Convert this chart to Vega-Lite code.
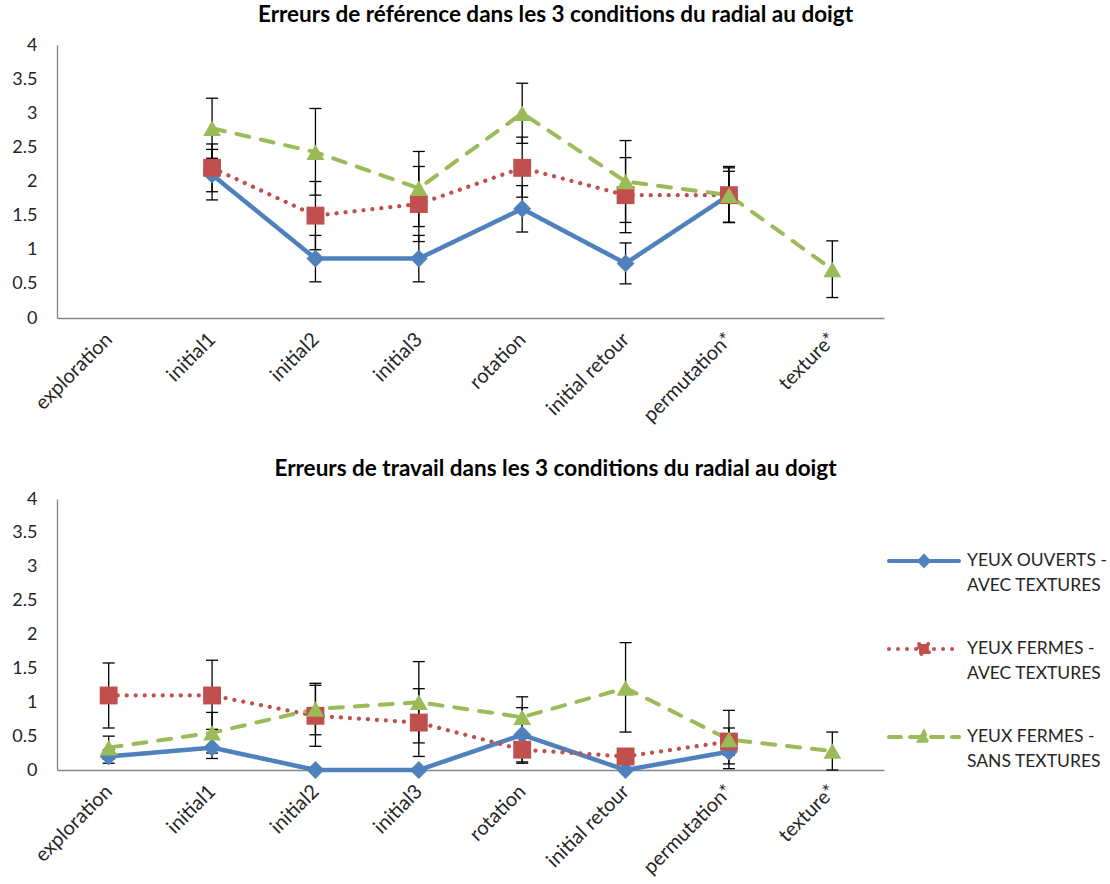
{
  "$schema": "https://vega.github.io/schema/vega-lite/v6.json",
  "padding": {"left": 11, "top": 3, "right": 0, "bottom": 0},
  "background": "white",
  "config": {
    "font": "Lato",
    "view": {"stroke": null},
    "title": {"fontSize": 22.5, "fontWeight": "bold", "font": "Lato", "color": "#000000", "dx": 85, "offset": 10},
    "axis": {"domainColor": "#868686", "domainWidth": 1.3, "ticks": false, "grid": false, "labelColor": "#262626", "title": null, "labelFont": "Lato", "labelOverlap": false},
    "axisY": {"values": [0, 0.5, 1, 1.5, 2, 2.5, 3, 3.5, 4], "format": ".1~f", "labelFontSize": 18, "labelPadding": 20},
    "axisX": {"labelAngle": -45, "labelAlign": "right", "labelBaseline": "middle", "labelFontSize": 20, "labelPadding": 18}
  },
  "datasets": {
    "ref": [
      {"s": "YEUX OUVERTS - AVEC TEXTURES", "c": "initial1", "v": 2.1, "lo": 1.73, "hi": 2.47},
      {"s": "YEUX OUVERTS - AVEC TEXTURES", "c": "initial2", "v": 0.87, "lo": 0.53, "hi": 1.21},
      {"s": "YEUX OUVERTS - AVEC TEXTURES", "c": "initial3", "v": 0.87, "lo": 0.53, "hi": 1.21},
      {"s": "YEUX OUVERTS - AVEC TEXTURES", "c": "rotation", "v": 1.6, "lo": 1.26, "hi": 1.94},
      {"s": "YEUX OUVERTS - AVEC TEXTURES", "c": "initial retour", "v": 0.8, "lo": 0.5, "hi": 1.1},
      {"s": "YEUX OUVERTS - AVEC TEXTURES", "c": "permutation*", "v": 1.8, "lo": 1.4, "hi": 2.2},
      {"s": "YEUX FERMES - AVEC TEXTURES", "c": "initial1", "v": 2.2, "lo": 1.85, "hi": 2.55},
      {"s": "YEUX FERMES - AVEC TEXTURES", "c": "initial2", "v": 1.5, "lo": 1.0, "hi": 2.0},
      {"s": "YEUX FERMES - AVEC TEXTURES", "c": "initial3", "v": 1.67, "lo": 1.12, "hi": 2.22},
      {"s": "YEUX FERMES - AVEC TEXTURES", "c": "rotation", "v": 2.2, "lo": 1.77, "hi": 2.65},
      {"s": "YEUX FERMES - AVEC TEXTURES", "c": "initial retour", "v": 1.8, "lo": 1.25, "hi": 2.35},
      {"s": "YEUX FERMES - AVEC TEXTURES", "c": "permutation*", "v": 1.8, "lo": 1.4, "hi": 2.22},
      {"s": "YEUX FERMES - SANS TEXTURES", "c": "initial1", "v": 2.78, "lo": 2.34, "hi": 3.22},
      {"s": "YEUX FERMES - SANS TEXTURES", "c": "initial2", "v": 2.43, "lo": 1.8, "hi": 3.07},
      {"s": "YEUX FERMES - SANS TEXTURES", "c": "initial3", "v": 1.9, "lo": 1.34, "hi": 2.44},
      {"s": "YEUX FERMES - SANS TEXTURES", "c": "rotation", "v": 3.0, "lo": 2.56, "hi": 3.44},
      {"s": "YEUX FERMES - SANS TEXTURES", "c": "initial retour", "v": 2.0, "lo": 1.4, "hi": 2.6},
      {"s": "YEUX FERMES - SANS TEXTURES", "c": "permutation*", "v": 1.8, "lo": 1.4, "hi": 2.15},
      {"s": "YEUX FERMES - SANS TEXTURES", "c": "texture*", "v": 0.71, "lo": 0.3, "hi": 1.13}
    ],
    "trav": [
      {"s": "YEUX OUVERTS - AVEC TEXTURES", "c": "exploration", "v": 0.2, "lo": 0.1, "hi": 0.3},
      {"s": "YEUX OUVERTS - AVEC TEXTURES", "c": "initial1", "v": 0.33, "lo": 0.17, "hi": 0.49},
      {"s": "YEUX OUVERTS - AVEC TEXTURES", "c": "initial2", "v": 0.0},
      {"s": "YEUX OUVERTS - AVEC TEXTURES", "c": "initial3", "v": 0.0},
      {"s": "YEUX OUVERTS - AVEC TEXTURES", "c": "rotation", "v": 0.52, "lo": 0.12, "hi": 0.92},
      {"s": "YEUX OUVERTS - AVEC TEXTURES", "c": "initial retour", "v": 0.0},
      {"s": "YEUX OUVERTS - AVEC TEXTURES", "c": "permutation*", "v": 0.27, "lo": 0.09, "hi": 0.45},
      {"s": "YEUX FERMES - AVEC TEXTURES", "c": "exploration", "v": 1.1, "lo": 0.62, "hi": 1.58},
      {"s": "YEUX FERMES - AVEC TEXTURES", "c": "initial1", "v": 1.1, "lo": 0.6, "hi": 1.62},
      {"s": "YEUX FERMES - AVEC TEXTURES", "c": "initial2", "v": 0.8, "lo": 0.35, "hi": 1.25},
      {"s": "YEUX FERMES - AVEC TEXTURES", "c": "initial3", "v": 0.7, "lo": 0.2, "hi": 1.2},
      {"s": "YEUX FERMES - AVEC TEXTURES", "c": "rotation", "v": 0.3, "lo": 0.1, "hi": 0.5},
      {"s": "YEUX FERMES - AVEC TEXTURES", "c": "initial retour", "v": 0.2, "lo": 0.1, "hi": 0.3},
      {"s": "YEUX FERMES - AVEC TEXTURES", "c": "permutation*", "v": 0.42, "lo": 0.22, "hi": 0.62},
      {"s": "YEUX FERMES - SANS TEXTURES", "c": "exploration", "v": 0.33, "lo": 0.16, "hi": 0.5},
      {"s": "YEUX FERMES - SANS TEXTURES", "c": "initial1", "v": 0.55, "lo": 0.25, "hi": 0.85},
      {"s": "YEUX FERMES - SANS TEXTURES", "c": "initial2", "v": 0.9, "lo": 0.52, "hi": 1.28},
      {"s": "YEUX FERMES - SANS TEXTURES", "c": "initial3", "v": 1.0, "lo": 0.4, "hi": 1.6},
      {"s": "YEUX FERMES - SANS TEXTURES", "c": "rotation", "v": 0.78, "lo": 0.48, "hi": 1.08},
      {"s": "YEUX FERMES - SANS TEXTURES", "c": "initial retour", "v": 1.21, "lo": 0.56, "hi": 1.88},
      {"s": "YEUX FERMES - SANS TEXTURES", "c": "permutation*", "v": 0.45, "lo": 0.02, "hi": 0.88},
      {"s": "YEUX FERMES - SANS TEXTURES", "c": "texture*", "v": 0.28, "lo": 0.0, "hi": 0.56}
    ]
  },
  "spacing": 31,
  "resolve": {"legend": {"color": "independent"}},
  "vconcat": [
    {
      "title": {"text": "Erreurs de référence dans les 3 conditions du radial au doigt"},
      "width": 827,
      "height": 273,
      "data": {"name": "ref"},
      "encoding": {
        "x": {"field": "c", "type": "nominal",
          "scale": {"type": "point", "padding": 0.5, "domain": ["exploration", "initial1", "initial2", "initial3", "rotation", "initial retour", "permutation*", "texture*"]}}
      },
      "layer": [
        {"mark": {"type": "line", "strokeCap": "round"},
          "encoding": {
            "y": {"field": "v", "type": "quantitative", "scale": {"domain": [0, 4]}},
            "color": {"field": "s", "type": "nominal", "legend": null, "scale": {"domain": ["YEUX OUVERTS - AVEC TEXTURES", "YEUX FERMES - AVEC TEXTURES", "YEUX FERMES - SANS TEXTURES"], "range": ["#4F81BD", "#C0504D", "#9BBB59"]}},
            "strokeDash": {"field": "s", "type": "nominal", "legend": null, "scale": {"domain": ["YEUX OUVERTS - AVEC TEXTURES", "YEUX FERMES - AVEC TEXTURES", "YEUX FERMES - SANS TEXTURES"], "range": [[1, 0], [0.01, 9], [13, 12]]}},
            "strokeWidth": {"field": "s", "type": "nominal", "legend": null, "scale": {"domain": ["YEUX OUVERTS - AVEC TEXTURES", "YEUX FERMES - AVEC TEXTURES", "YEUX FERMES - SANS TEXTURES"], "range": [4.5, 4, 4.5]}}
          }},
        {"mark": {"type": "rule", "color": "#000000", "strokeWidth": 1.3},
          "encoding": {"y": {"field": "lo", "type": "quantitative"}, "y2": {"field": "hi"}}},
        {"mark": {"type": "tick", "color": "#000000", "thickness": 1.3, "size": 12, "opacity": 1},
          "encoding": {"y": {"field": "lo", "type": "quantitative"}}},
        {"mark": {"type": "tick", "color": "#000000", "thickness": 1.3, "size": 12, "opacity": 1},
          "encoding": {"y": {"field": "hi", "type": "quantitative"}}},
        {"mark": {"type": "point", "filled": true, "opacity": 1, "size": 320},
          "encoding": {
            "y": {"field": "v", "type": "quantitative"},
            "color": {"field": "s", "type": "nominal", "legend": null},
            "shape": {"field": "s", "type": "nominal", "legend": null, "scale": {"domain": ["YEUX OUVERTS - AVEC TEXTURES", "YEUX FERMES - AVEC TEXTURES", "YEUX FERMES - SANS TEXTURES"], "range": ["diamond", "square", "triangle-up"]}}
          }}
      ]
    },
    {
      "title": {"text": "Erreurs de travail dans  les 3 conditions du radial au doigt"},
      "width": 827,
      "height": 271,
      "data": {"name": "trav"},
      "encoding": {
        "x": {"field": "c", "type": "nominal",
          "scale": {"type": "point", "padding": 0.5, "domain": ["exploration", "initial1", "initial2", "initial3", "rotation", "initial retour", "permutation*", "texture*"]}}
      },
      "layer": [
        {"mark": {"type": "line", "strokeCap": "round"},
          "encoding": {
            "y": {"field": "v", "type": "quantitative", "scale": {"domain": [0, 4]}},
            "color": {"field": "s", "type": "nominal",
              "legend": {"orient": "none", "legendX": 830, "legendY": 25, "title": null, "symbolSize": 4900, "labelFontSize": 17.5, "labelFont": "Lato", "labelColor": "#262626", "labelLimit": 300, "rowPadding": 17, "labelOffset": 6,
                "labelExpr": "[split(datum.label, ' - ')[0] + ' -', split(datum.label, ' - ')[1]]",
                "encode": {
                  "symbols": {"update": {
                    "shape": {"signal": "datum.value === 'YEUX OUVERTS - AVEC TEXTURES' ? 'M-1,0H1M0,-0.13L0.13,0L0,0.13L-0.13,0Z' : datum.value === 'YEUX FERMES - AVEC TEXTURES' ? 'M-1,0H1M-0.14,-0.14H0.14V0.14H-0.14Z' : 'M-1,0H1M-0.13,0.11L0,-0.13L0.13,0.11Z'"},
                    "strokeDash": {"signal": "datum.value === 'YEUX OUVERTS - AVEC TEXTURES' ? [1,0] : datum.value === 'YEUX FERMES - AVEC TEXTURES' ? [0.01,9] : [12,9]"},
                    "fill": {"signal": "datum.value === 'YEUX OUVERTS - AVEC TEXTURES' ? '#4F81BD' : datum.value === 'YEUX FERMES - AVEC TEXTURES' ? '#C0504D' : '#9BBB59'"},
                    "stroke": {"signal": "datum.value === 'YEUX OUVERTS - AVEC TEXTURES' ? '#4F81BD' : datum.value === 'YEUX FERMES - AVEC TEXTURES' ? '#C0504D' : '#9BBB59'"},
                    "strokeWidth": {"value": 4},
                    "strokeCap": {"value": "round"},
                    "opacity": {"value": 1},
                    "fillOpacity": {"value": 1}
                  }},
                  "labels": {"update": {"lineHeight": {"value": 25}}}
                }}},
            "strokeDash": {"field": "s", "type": "nominal", "legend": null},
            "strokeWidth": {"field": "s", "type": "nominal", "legend": null}
          }},
        {"mark": {"type": "rule", "color": "#000000", "strokeWidth": 1.3},
          "encoding": {"y": {"field": "lo", "type": "quantitative"}, "y2": {"field": "hi"}}},
        {"mark": {"type": "tick", "color": "#000000", "thickness": 1.3, "size": 12, "opacity": 1},
          "encoding": {"y": {"field": "lo", "type": "quantitative"}}},
        {"mark": {"type": "tick", "color": "#000000", "thickness": 1.3, "size": 12, "opacity": 1},
          "encoding": {"y": {"field": "hi", "type": "quantitative"}}},
        {"mark": {"type": "point", "filled": true, "opacity": 1, "size": 320},
          "encoding": {
            "y": {"field": "v", "type": "quantitative"},
            "color": {"field": "s", "type": "nominal", "legend": null},
            "shape": {"field": "s", "type": "nominal", "legend": null}
          }}
      ]
    }
  ]
}
